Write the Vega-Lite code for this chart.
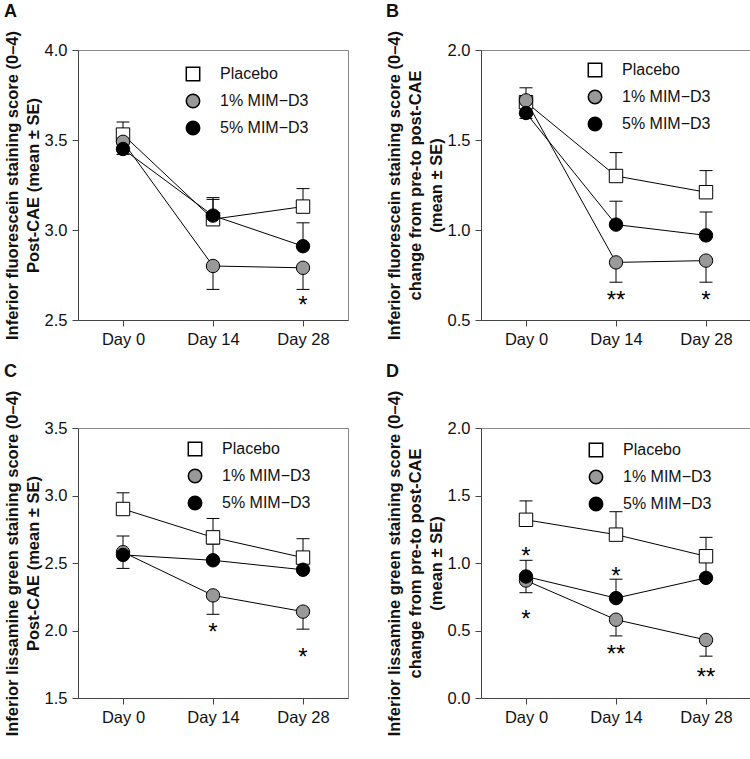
{
  "$schema": "https://vega.github.io/schema/vega-lite/v6.json",
  "padding": {"left": 3, "top": 2, "right": 4, "bottom": 4},
  "background": "white",
  "bounds": "flush",
  "columns": 2,
  "spacing": {"row": 108, "column": 133},
  "resolve": {"scale": {"fill": "independent", "shape": "independent"}, "legend": {"fill": "independent", "shape": "independent"}},
  "datasets": {
    "pts": [
      {"panel": "A", "day": "Day 0", "group": "Placebo", "mean": 3.53, "err": 3.60},
      {"panel": "A", "day": "Day 14", "group": "Placebo", "mean": 3.06, "err": 3.18},
      {"panel": "A", "day": "Day 28", "group": "Placebo", "mean": 3.13, "err": 3.23},
      {"panel": "A", "day": "Day 0", "group": "1% MIM−D3", "mean": 3.49, "err": null},
      {"panel": "A", "day": "Day 14", "group": "1% MIM−D3", "mean": 2.80, "err": 2.67},
      {"panel": "A", "day": "Day 28", "group": "1% MIM−D3", "mean": 2.79, "err": 2.67},
      {"panel": "A", "day": "Day 0", "group": "5% MIM−D3", "mean": 3.45, "err": 3.42},
      {"panel": "A", "day": "Day 14", "group": "5% MIM−D3", "mean": 3.08, "err": 3.17},
      {"panel": "A", "day": "Day 28", "group": "5% MIM−D3", "mean": 2.91, "err": 3.04},
      {"panel": "B", "day": "Day 0", "group": "Placebo", "mean": 1.71, "err": 1.79},
      {"panel": "B", "day": "Day 14", "group": "Placebo", "mean": 1.30, "err": 1.43},
      {"panel": "B", "day": "Day 28", "group": "Placebo", "mean": 1.21, "err": 1.33},
      {"panel": "B", "day": "Day 0", "group": "1% MIM−D3", "mean": 1.72, "err": null},
      {"panel": "B", "day": "Day 14", "group": "1% MIM−D3", "mean": 0.82, "err": 0.71},
      {"panel": "B", "day": "Day 28", "group": "1% MIM−D3", "mean": 0.83, "err": 0.71},
      {"panel": "B", "day": "Day 0", "group": "5% MIM−D3", "mean": 1.65, "err": 1.62},
      {"panel": "B", "day": "Day 14", "group": "5% MIM−D3", "mean": 1.03, "err": 1.16},
      {"panel": "B", "day": "Day 28", "group": "5% MIM−D3", "mean": 0.97, "err": 1.10},
      {"panel": "C", "day": "Day 0", "group": "Placebo", "mean": 2.90, "err": 3.02},
      {"panel": "C", "day": "Day 14", "group": "Placebo", "mean": 2.69, "err": 2.83},
      {"panel": "C", "day": "Day 28", "group": "Placebo", "mean": 2.54, "err": 2.68},
      {"panel": "C", "day": "Day 0", "group": "1% MIM−D3", "mean": 2.58, "err": 2.46},
      {"panel": "C", "day": "Day 14", "group": "1% MIM−D3", "mean": 2.26, "err": 2.12},
      {"panel": "C", "day": "Day 28", "group": "1% MIM−D3", "mean": 2.14, "err": 2.01},
      {"panel": "C", "day": "Day 0", "group": "5% MIM−D3", "mean": 2.56, "err": 2.70},
      {"panel": "C", "day": "Day 14", "group": "5% MIM−D3", "mean": 2.52, "err": 2.64},
      {"panel": "C", "day": "Day 28", "group": "5% MIM−D3", "mean": 2.45, "err": 2.53},
      {"panel": "D", "day": "Day 0", "group": "Placebo", "mean": 1.32, "err": 1.46},
      {"panel": "D", "day": "Day 14", "group": "Placebo", "mean": 1.21, "err": 1.38},
      {"panel": "D", "day": "Day 28", "group": "Placebo", "mean": 1.05, "err": 1.19},
      {"panel": "D", "day": "Day 0", "group": "1% MIM−D3", "mean": 0.87, "err": 0.78},
      {"panel": "D", "day": "Day 14", "group": "1% MIM−D3", "mean": 0.58, "err": 0.46},
      {"panel": "D", "day": "Day 28", "group": "1% MIM−D3", "mean": 0.43, "err": 0.31},
      {"panel": "D", "day": "Day 0", "group": "5% MIM−D3", "mean": 0.90, "err": 1.02},
      {"panel": "D", "day": "Day 14", "group": "5% MIM−D3", "mean": 0.74, "err": 0.88},
      {"panel": "D", "day": "Day 28", "group": "5% MIM−D3", "mean": 0.89, "err": 1.01}
    ],
    "stars": [
      {"panel": "A", "day": "Day 28", "y": 2.617, "label": "*"},
      {"panel": "B", "day": "Day 14", "y": 0.644, "label": "**"},
      {"panel": "B", "day": "Day 28", "y": 0.644, "label": "*"},
      {"panel": "C", "day": "Day 14", "y": 2.03, "label": "*"},
      {"panel": "C", "day": "Day 28", "y": 1.85, "label": "*"},
      {"panel": "D", "day": "Day 0", "y": 1.10, "label": "*"},
      {"panel": "D", "day": "Day 0", "y": 0.63, "label": "*"},
      {"panel": "D", "day": "Day 14", "y": 0.95, "label": "*"},
      {"panel": "D", "day": "Day 14", "y": 0.37, "label": "**"},
      {"panel": "D", "day": "Day 28", "y": 0.20, "label": "**"}
    ]
  },
  "concat": [
    {
      "title": {"text": "A"},
      "width": 270, "height": 270,
      "encoding": {
        "x": {"field": "day", "type": "ordinal", "scale": {"type": "point", "domain": ["Day 0", "Day 14", "Day 28"], "padding": 0.5}, "axis": {"title": null, "labelAngle": 0}},
        "y": {"field": "mean", "type": "quantitative", "scale": {"domain": [2.5, 4.0], "nice": false, "zero": false}, "axis": {"values": [2.5, 3, 3.5, 4], "format": ".1f"}, "title": ["Inferior fluorescein staining score (0–4)", "Post-CAE (mean ± SE)"]}
      },
      "layer": [
        {"data": {"name": "pts"}, "transform": [{"filter": "datum.panel === 'A' && isValid(datum.err)"}], "mark": {"type": "rule", "color": "black", "strokeWidth": 1}, "encoding": {"y2": {"field": "err"}}},
        {"data": {"name": "pts"}, "transform": [{"filter": "datum.panel === 'A' && isValid(datum.err)"}], "mark": {"type": "tick", "color": "black", "thickness": 1, "size": 13, "opacity": 1}, "encoding": {"y": {"field": "err", "type": "quantitative", "title": ["Inferior fluorescein staining score (0–4)", "Post-CAE (mean ± SE)"]}}},
        {"data": {"name": "pts"}, "transform": [{"filter": "datum.panel === 'A'"}], "mark": {"type": "line", "color": "black", "strokeWidth": 1}, "encoding": {"detail": {"field": "group"}}},
        {"data": {"name": "pts"}, "transform": [{"filter": "datum.panel === 'A'"}], "mark": {"type": "point", "filled": true, "stroke": "black", "strokeWidth": 1, "size": 180, "opacity": 1},
          "encoding": {
            "fill": {"field": "group", "type": "nominal", "scale": {"domain": ["Placebo", "1% MIM−D3", "5% MIM−D3"], "range": ["white", "#999999", "black"]},
              "legend": {"title": null, "orient": "none", "legendX": 107, "legendY": 16, "symbolSize": 180, "rowPadding": 7, "labelOffset": 19}},
            "shape": {"field": "group", "type": "nominal", "scale": {"domain": ["Placebo", "1% MIM−D3", "5% MIM−D3"], "range": ["square", "circle", "circle"]}}
          }},
        {"data": {"name": "stars"}, "transform": [{"filter": "datum.panel === 'A'"}], "mark": {"type": "text", "fontSize": 24, "dy": 14, "baseline": "alphabetic", "color": "black"}, "encoding": {"y": {"field": "y", "type": "quantitative", "title": ["Inferior fluorescein staining score (0–4)", "Post-CAE (mean ± SE)"]}, "text": {"field": "label"}}}
      ]
    },
    {
      "title": {"text": "B"},
      "width": 270, "height": 270,
      "encoding": {
        "x": {"field": "day", "type": "ordinal", "scale": {"type": "point", "domain": ["Day 0", "Day 14", "Day 28"], "padding": 0.5}, "axis": {"title": null, "labelAngle": 0}},
        "y": {"field": "mean", "type": "quantitative", "scale": {"domain": [0.5, 2.0], "nice": false, "zero": false}, "axis": {"values": [0.5, 1, 1.5, 2], "format": ".1f"}, "title": ["Inferior fluorescein staining score (0–4)", "change from pre-to post-CAE", "(mean ± SE)"]}
      },
      "layer": [
        {"data": {"name": "pts"}, "transform": [{"filter": "datum.panel === 'B' && isValid(datum.err)"}], "mark": {"type": "rule", "color": "black", "strokeWidth": 1}, "encoding": {"y2": {"field": "err"}}},
        {"data": {"name": "pts"}, "transform": [{"filter": "datum.panel === 'B' && isValid(datum.err)"}], "mark": {"type": "tick", "color": "black", "thickness": 1, "size": 13, "opacity": 1}, "encoding": {"y": {"field": "err", "type": "quantitative", "title": ["Inferior fluorescein staining score (0–4)", "change from pre-to post-CAE", "(mean ± SE)"]}}},
        {"data": {"name": "pts"}, "transform": [{"filter": "datum.panel === 'B'"}], "mark": {"type": "line", "color": "black", "strokeWidth": 1}, "encoding": {"detail": {"field": "group"}}},
        {"data": {"name": "pts"}, "transform": [{"filter": "datum.panel === 'B'"}], "mark": {"type": "point", "filled": true, "stroke": "black", "strokeWidth": 1, "size": 180, "opacity": 1},
          "encoding": {
            "fill": {"field": "group", "type": "nominal", "scale": {"domain": ["Placebo", "1% MIM−D3", "5% MIM−D3"], "range": ["white", "#999999", "black"]},
              "legend": {"title": null, "orient": "none", "legendX": 106, "legendY": 12, "symbolSize": 180, "rowPadding": 7, "labelOffset": 19}},
            "shape": {"field": "group", "type": "nominal", "scale": {"domain": ["Placebo", "1% MIM−D3", "5% MIM−D3"], "range": ["square", "circle", "circle"]}}
          }},
        {"data": {"name": "stars"}, "transform": [{"filter": "datum.panel === 'B'"}], "mark": {"type": "text", "fontSize": 24, "dy": 14, "baseline": "alphabetic", "color": "black"}, "encoding": {"y": {"field": "y", "type": "quantitative", "title": ["Inferior fluorescein staining score (0–4)", "change from pre-to post-CAE", "(mean ± SE)"]}, "text": {"field": "label"}}}
      ]
    },
    {
      "title": {"text": "C"},
      "width": 270, "height": 270,
      "encoding": {
        "x": {"field": "day", "type": "ordinal", "scale": {"type": "point", "domain": ["Day 0", "Day 14", "Day 28"], "padding": 0.5}, "axis": {"title": null, "labelAngle": 0}},
        "y": {"field": "mean", "type": "quantitative", "scale": {"domain": [1.5, 3.5], "nice": false, "zero": false}, "axis": {"values": [1.5, 2, 2.5, 3, 3.5], "format": ".1f"}, "title": ["Inferior lissamine green staining score (0–4)", "Post-CAE (mean ± SE)"]}
      },
      "layer": [
        {"data": {"name": "pts"}, "transform": [{"filter": "datum.panel === 'C' && isValid(datum.err)"}], "mark": {"type": "rule", "color": "black", "strokeWidth": 1}, "encoding": {"y2": {"field": "err"}}},
        {"data": {"name": "pts"}, "transform": [{"filter": "datum.panel === 'C' && isValid(datum.err)"}], "mark": {"type": "tick", "color": "black", "thickness": 1, "size": 13, "opacity": 1}, "encoding": {"y": {"field": "err", "type": "quantitative", "title": ["Inferior lissamine green staining score (0–4)", "Post-CAE (mean ± SE)"]}}},
        {"data": {"name": "pts"}, "transform": [{"filter": "datum.panel === 'C'"}], "mark": {"type": "line", "color": "black", "strokeWidth": 1}, "encoding": {"detail": {"field": "group"}}},
        {"data": {"name": "pts"}, "transform": [{"filter": "datum.panel === 'C'"}], "mark": {"type": "point", "filled": true, "stroke": "black", "strokeWidth": 1, "size": 180, "opacity": 1},
          "encoding": {
            "fill": {"field": "group", "type": "nominal", "scale": {"domain": ["Placebo", "1% MIM−D3", "5% MIM−D3"], "range": ["white", "#999999", "black"]},
              "legend": {"title": null, "orient": "none", "legendX": 109, "legendY": 13, "symbolSize": 180, "rowPadding": 7, "labelOffset": 19}},
            "shape": {"field": "group", "type": "nominal", "scale": {"domain": ["Placebo", "1% MIM−D3", "5% MIM−D3"], "range": ["square", "circle", "circle"]}}
          }},
        {"data": {"name": "stars"}, "transform": [{"filter": "datum.panel === 'C'"}], "mark": {"type": "text", "fontSize": 24, "dy": 14, "baseline": "alphabetic", "color": "black"}, "encoding": {"y": {"field": "y", "type": "quantitative", "title": ["Inferior lissamine green staining score (0–4)", "Post-CAE (mean ± SE)"]}, "text": {"field": "label"}}}
      ]
    },
    {
      "title": {"text": "D"},
      "width": 270, "height": 270,
      "encoding": {
        "x": {"field": "day", "type": "ordinal", "scale": {"type": "point", "domain": ["Day 0", "Day 14", "Day 28"], "padding": 0.5}, "axis": {"title": null, "labelAngle": 0}},
        "y": {"field": "mean", "type": "quantitative", "scale": {"domain": [0, 2.0], "nice": false, "zero": false}, "axis": {"values": [0, 0.5, 1, 1.5, 2], "format": ".1f"}, "title": ["Inferior lissamine green staining score (0–4)", "change from pre-to post-CAE", "(mean ± SE)"]}
      },
      "layer": [
        {"data": {"name": "pts"}, "transform": [{"filter": "datum.panel === 'D' && isValid(datum.err)"}], "mark": {"type": "rule", "color": "black", "strokeWidth": 1}, "encoding": {"y2": {"field": "err"}}},
        {"data": {"name": "pts"}, "transform": [{"filter": "datum.panel === 'D' && isValid(datum.err)"}], "mark": {"type": "tick", "color": "black", "thickness": 1, "size": 13, "opacity": 1}, "encoding": {"y": {"field": "err", "type": "quantitative", "title": ["Inferior lissamine green staining score (0–4)", "change from pre-to post-CAE", "(mean ± SE)"]}}},
        {"data": {"name": "pts"}, "transform": [{"filter": "datum.panel === 'D'"}], "mark": {"type": "line", "color": "black", "strokeWidth": 1}, "encoding": {"detail": {"field": "group"}}},
        {"data": {"name": "pts"}, "transform": [{"filter": "datum.panel === 'D'"}], "mark": {"type": "point", "filled": true, "stroke": "black", "strokeWidth": 1, "size": 180, "opacity": 1},
          "encoding": {
            "fill": {"field": "group", "type": "nominal", "scale": {"domain": ["Placebo", "1% MIM−D3", "5% MIM−D3"], "range": ["white", "#999999", "black"]},
              "legend": {"title": null, "orient": "none", "legendX": 107, "legendY": 14, "symbolSize": 180, "rowPadding": 7, "labelOffset": 19}},
            "shape": {"field": "group", "type": "nominal", "scale": {"domain": ["Placebo", "1% MIM−D3", "5% MIM−D3"], "range": ["square", "circle", "circle"]}}
          }},
        {"data": {"name": "stars"}, "transform": [{"filter": "datum.panel === 'D'"}], "mark": {"type": "text", "fontSize": 24, "dy": 14, "baseline": "alphabetic", "color": "black"}, "encoding": {"y": {"field": "y", "type": "quantitative", "title": ["Inferior lissamine green staining score (0–4)", "change from pre-to post-CAE", "(mean ± SE)"]}, "text": {"field": "label"}}}
      ]
    }
  ],
  "config": {
    "font": "Liberation Sans",
    "view": {"stroke": "#888888", "strokeWidth": 1},
    "axis": {"grid": false, "domainColor": "#444444", "tickColor": "#444444", "tickSize": 6, "labelFontSize": 16.5, "labelColor": "#111111", "labelFont": "Liberation Sans", "titleFont": "Liberation Sans", "titleFontSize": 16.5, "titleFontWeight": "bold", "titleColor": "#111111", "titleLineHeight": 21, "titlePadding": 3, "labelPadding": 5},
    "legend": {"labelFontSize": 16, "labelFont": "Liberation Sans", "labelColor": "#111111", "padding": 0},
    "title": {"anchor": "start", "frame": "bounds", "fontSize": 18, "fontWeight": "bold", "font": "Liberation Sans", "offset": 9, "color": "#111111"}
  }
}
